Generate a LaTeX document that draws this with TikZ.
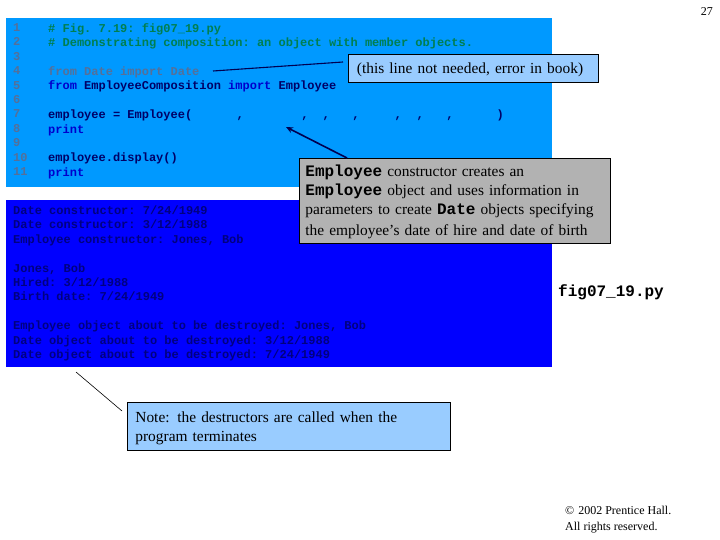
\documentclass[tikz,border=0pt]{standalone}
\usepackage{fontspec}
\usetikzlibrary{arrows.meta}
\setmainfont{Liberation Serif}
\setmonofont{Liberation Mono}
\definecolor{panelA}{HTML}{0099FF}
\definecolor{panelB}{HTML}{0000FF}
\definecolor{noteblue}{HTML}{99CCFF}
\definecolor{notegrey}{HTML}{B2B2B2}
\definecolor{numcol}{HTML}{557099}
\definecolor{comcol}{HTML}{007F50}
\definecolor{kwcol}{HTML}{0000CC}
\definecolor{codecol}{HTML}{000066}
\definecolor{greycode}{HTML}{557099}
\definecolor{outcol}{HTML}{000080}
\definecolor{navy}{HTML}{000050}
\newcommand{\kw}[1]{\textcolor{kwcol}{#1}}
\newcommand{\cm}[1]{\textcolor{comcol}{#1}}
\newcommand{\gy}[1]{\textcolor{greycode}{#1}}
\newcommand{\cb}[1]{{\fontsize{16}{19}\selectfont\ttfamily\bfseries #1}}
\newcommand{\lowr}[2]{\raisebox{-#1}[\height][\depth]{#2}}
\tikzset{
  x=1pt,y=-1pt,
  panel/.style={anchor=north west,inner sep=0pt,minimum width=546pt},
  codeblock/.style={anchor=north west,inner sep=0pt,align=left,
    font=\fontsize{12}{14.4}\selectfont\ttfamily\bfseries},
  note/.style={anchor=north west,draw=black,line width=0.8pt,inner sep=0pt,align=left,
    font=\fontsize{15.4}{19}\selectfont},
  serifnote/.style={anchor=north west,inner sep=0pt,align=left,font=\fontsize{12}{16}\selectfont},
}
\begin{document}
\begin{tikzpicture}
\useasboundingbox (0,0) rectangle (720,540);
\fill[white] (0,0) rectangle (720,540);
\node[panel,fill=panelA,minimum height=169pt] (codepanel) at (6,18) {};
\node[panel,fill=panelB,minimum height=167pt] (outpanel) at (6,200) {};
\node[codeblock,text=numcol] (nums) at (13,23.3) {1\\2\\3\\4\\5\\6\\7\\8\\9\\10\\11};
\node[codeblock,text=codecol] (code) at (48,23.3) {%
\cm{\# Fig. 7.19: fig07\_19.py}\\
\cm{\# Demonstrating composition: an object with member objects.}\\
\strut\\
\gy{from Date import Date}\\
\kw{from} EmployeeComposition \kw{import} Employee\\
\strut\\
employee = Employee(\kern44.5pt,\kern57.5pt,\kern14pt,\kern22.5pt,\kern35pt,\kern15pt,\kern22.5pt,\kern43pt)\\
\kw{print}\\
\strut\\
employee.display()\\
\kw{print}};
\node[codeblock,text=outcol] (out) at (13,205.6) {%
Date constructor: 7/24/1949\\
Date constructor: 3/12/1988\\
Employee constructor: Jones, Bob\\
\strut\\
Jones, Bob\\
Hired: 3/12/1988\\
Birth date: 7/24/1949\\
\strut\\
Employee object about to be destroyed: Jones, Bob\\
Date object about to be destroyed: 3/12/1988\\
Date object about to be destroyed: 7/24/1949};
\node[note,fill=noteblue,minimum width=250pt,minimum height=28pt,text width=241pt,inner xsep=4.5pt] (bookerr) at (348,54) {\lowr{1.5pt}{\hspace*{4pt}(this line not needed, error in book)}};
\node[note,fill=notegrey,minimum width=311pt,minimum height=85pt,text width=305pt,inner xsep=3pt] (ctor) at (299,158) {%
\lowr{1pt}{\hspace*{3pt}\cb{Employee} constructor creates an}\\
\lowr{1pt}{\hspace*{3pt}\cb{Employee} object and uses information in}\\
\lowr{1pt}{\hspace*{3pt}parameters to create \cb{Date} objects specifying}\\[2pt]
\lowr{1pt}{\hspace*{3pt}the employee’s date of hire and date of birth}};
\node[note,fill=noteblue,minimum width=323pt,minimum height=48pt,text width=315pt,inner xsep=4pt] (dtor) at (127,402) {%
\lowr{2pt}{\hspace*{4pt}Note: the destructors are called when the}\\
\lowr{2pt}{\hspace*{4pt}program terminates}};
\node[anchor=west,inner sep=0pt,font=\fontsize{16}{19}\selectfont\ttfamily\bfseries] (fname) at (558,292) {fig07\_19.py};
\node[anchor=east,inner sep=0pt,font=\fontsize{12}{14}\selectfont] (pagenum) at (713,12) {27};
\node[serifnote] (copy) at (565,506) {©\hspace{4pt}2002 Prentice Hall.\\All rights reserved.};
\coordinate (lineend) at (213,71);
\coordinate (linebox) at (343,62);
\coordinate (arrtip) at (286,127);
\coordinate (arrbase) at (347,158);
\coordinate (dtorA) at (76,372);
\coordinate (dtorB) at (122,411);
\draw[navy,line width=1.1pt] (lineend) -- (linebox);
\draw[navy,line width=1.6pt,-{Stealth[length=7pt,width=6pt]}] (arrbase) -- (arrtip);
\draw[black,line width=0.6pt] (dtorA) -- (dtorB);
\end{tikzpicture}
\end{document}
